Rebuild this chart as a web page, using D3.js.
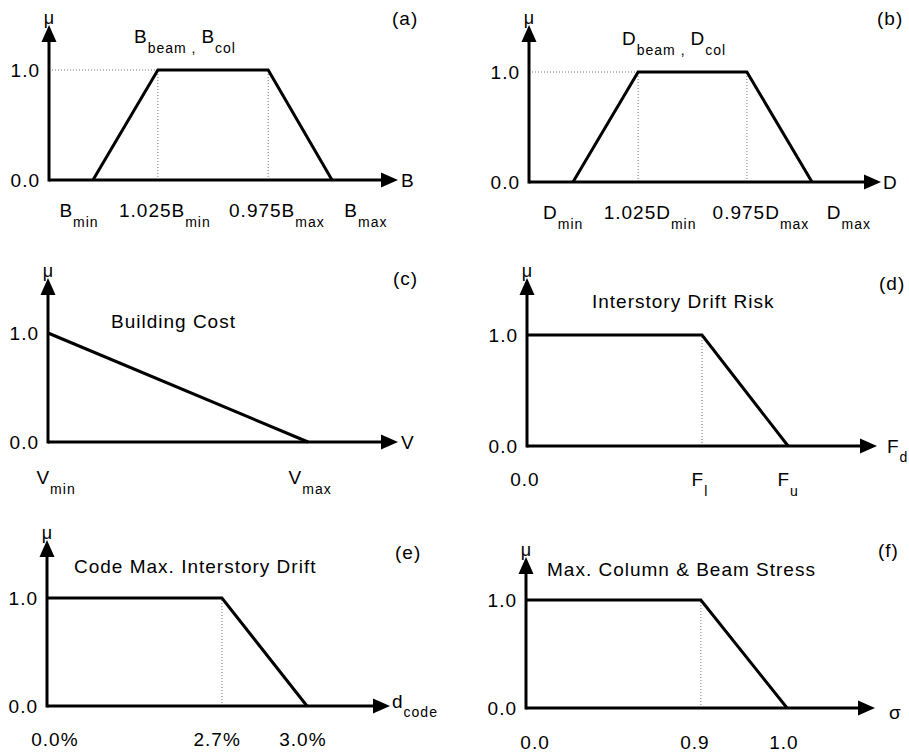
<!DOCTYPE html>
<html><head><meta charset="utf-8">
<script src="https://cdn.jsdelivr.net/npm/d3@7"></script>
<style>
body{margin:0;background:#fff;}
svg text{font-family:"Liberation Sans",Arial,Helvetica,sans-serif;fill:#000;}
</style></head><body>
<svg id="chart" width="909" height="753"></svg>
<script>
// ================= DATA =================
// membership axis ticks
const muTicks = [0, 1];
// x positions are schematic (fraction of the drawn x-axis length)
// (a) B_beam, B_col
const aX = [0.126, 0.312, 0.628, 0.811];
const aMu = [0, 1, 1, 0];
const aTickPos = [0.086, 0.332, 0.653, 0.908];
const aTickText = ["B", "1.025B", "0.975B", "B"];
const aTickSub = ["min", "min", "max", "max"];
// (b) D_beam, D_col
const bX = [0.125, 0.310, 0.619, 0.804];
const bMu = [0, 1, 1, 0];
const bTickPos = [0.097, 0.344, 0.659, 0.909];
const bTickText = ["D", "1.025D", "0.975D", "D"];
const bTickSub = ["min", "min", "max", "max"];
// (c) Building Cost
const cX = [0, 0.743];
const cMu = [1, 0];
const cTickPos = [0.023, 0.749];
const cTickText = ["V", "V"];
const cTickSub = ["min", "max"];
// (d) Interstory Drift Risk
const dX = [0, 0.5, 0.746];
const dMu = [1, 1, 0];
const dTickPos = [-0.006, 0.494, 0.746];
const dTickText = ["0.0", "F", "F"];
const dTickSub = ["", "l", "u"];
// (e) Code Max. Interstory Drift
const eX = [0, 0.510, 0.758];
const eMu = [1, 1, 0];
const eTickPos = [0.023, 0.496, 0.746];
const eTickText = ["0.0%", "2.7%", "3.0%"];
const eTickSub = ["", "", ""];
// (f) Max. Column & Beam Stress
const fX = [0, 0.501, 0.748];
const fMu = [1, 1, 0];
const fTickPos = [0.026, 0.484, 0.739];
const fTickText = ["0.0", "0.9", "1.0"];
const fTickSub = ["", "", ""];

const panelLetters = ["(a)", "(b)", "(c)", "(d)", "(e)", "(f)"];
// titles as [main, subscript] pairs
const titleA = [["B", "beam , "], ["B", "col"]];
const titleB = [["D", "beam , "], ["D", "col"]];
const titleC = [["Building Cost", ""]];
const titleD = [["Interstory Drift Risk", ""]];
const titleE = [["Code Max. Interstory Drift", ""]];
const titleF = [["Max. Column & Beam Stress", ""]];
// axis names at arrow end [main, subscript]
const axisNames = [["B", ""], ["D", ""], ["V", ""], ["F", "d"], ["d", "code"], ["σ", ""]];
const muLabel = "μ";

// ================= LAYOUT =================
const layouts = [
  {ox:49,  y0:180, y1:70,  xEnd:398, yTop:25,  titleX:134, titleY:43,  letterX:392, letterY:25,  tickY:217, nameX:401, nameDy:7},
  {ox:529, y0:182, y1:72,  xEnd:881, yTop:25,  titleX:622, titleY:45,  letterX:877, letterY:25,  tickY:219, nameX:883, nameDy:7},
  {ox:48,  y0:442, y1:333, xEnd:398, yTop:278, titleX:111, titleY:328, letterX:393, letterY:285, tickY:484, nameX:401, nameDy:7},
  {ox:527, y0:446, y1:335, xEnd:877, yTop:278, titleX:592, titleY:308, letterX:879, letterY:290, tickY:486, nameX:887, nameDy:7},
  {ox:47,  y0:706, y1:598, xEnd:390, yTop:540, titleX:74,  titleY:573, letterX:395, letterY:559, tickY:746, nameX:392, nameDy:2},
  {ox:526, y0:708, y1:600, xEnd:875, yTop:557, titleX:547, titleY:576, letterX:878, letterY:557, tickY:749, nameX:889, nameDy:11}
];

const panels = [
  {xs:aX, mu:aMu, tp:aTickPos, tt:aTickText, ts:aTickSub, title:titleA},
  {xs:bX, mu:bMu, tp:bTickPos, tt:bTickText, ts:bTickSub, title:titleB},
  {xs:cX, mu:cMu, tp:cTickPos, tt:cTickText, ts:cTickSub, title:titleC},
  {xs:dX, mu:dMu, tp:dTickPos, tt:dTickText, ts:dTickSub, title:titleD},
  {xs:eX, mu:eMu, tp:eTickPos, tt:eTickText, ts:eTickSub, title:titleE},
  {xs:fX, mu:fMu, tp:fTickPos, tt:fTickText, ts:fTickSub, title:titleF}
];

const FONT = 19, SUB = 14, LS = 1, SUBDY = 10;
const LW = 3, ARW = 7.5, ARL = 17;

const svg = d3.select("#chart");

function richText(sel, pairs, subDy) {
  let down = false;
  pairs.forEach(([m, s]) => {
    if (m) {
      const t = sel.append("tspan").text(m);
      if (down) { t.attr("dy", -subDy); down = false; }
    }
    if (s) {
      sel.append("tspan").attr("font-size", SUB).attr("dy", subDy).text(s);
      down = true;
    }
  });
}

panels.forEach((p, k) => {
  const L = layouts[k];
  const g = svg.append("g");
  const x = d3.scaleLinear().domain([0, 1]).range([L.ox, L.xEnd]);
  const y = d3.scaleLinear().domain([0, 1]).range([L.y0, L.y1]);
  const pts = p.xs.map((v, i) => [v, p.mu[i]]);
  const line = d3.line().x(d => x(d[0])).y(d => y(d[1]));

  // dotted guide lines
  const tops = pts.filter(d => d[1] === 1 && d[0] > 0);
  const guide = g.append("g").attr("stroke", "#777").attr("stroke-width", 1).attr("stroke-dasharray", "1,2").attr("fill", "none");
  if (pts[0][1] !== 1 && tops.length) {
    guide.append("path").attr("d", line([[0, 1], [tops[0][0], 1]]));
  }
  tops.forEach(d => guide.append("path").attr("d", line([[d[0], 0], [d[0], 1]])));

  // axes with arrows
  g.append("path").attr("d", d3.line()([[x(0), y(0)], [x(1) - ARL + 2, y(0)]]))
    .attr("stroke", "#000").attr("stroke-width", LW).attr("fill", "none");
  g.append("path").attr("d", d3.line()([[x(0), y(0) + LW / 2], [x(0), L.yTop + ARL - 2]]))
    .attr("stroke", "#000").attr("stroke-width", LW).attr("fill", "none");
  g.append("path").attr("d", d3.line()([[x(1), y(0)], [x(1) - ARL, y(0) - ARW], [x(1) - ARL, y(0) + ARW]]) + "Z").attr("fill", "#000");
  g.append("path").attr("d", d3.line()([[x(0), L.yTop], [x(0) - ARW, L.yTop + ARL], [x(0) + ARW, L.yTop + ARL]]) + "Z").attr("fill", "#000");

  // membership function
  g.append("path").datum(pts).attr("d", line)
    .attr("stroke", "#000").attr("stroke-width", LW).attr("fill", "none")
    .attr("stroke-linejoin", "miter");

  // y ticks
  const ay = d3.axisLeft(y).tickValues(muTicks).tickSize(0).tickPadding(9).tickFormat(d3.format(".1f"));
  const gy = g.append("g").attr("transform", `translate(${L.ox},0)`).call(ay);
  gy.select(".domain").remove();
  gy.attr("font-size", FONT).attr("font-family", null);
  gy.selectAll("text").attr("letter-spacing", LS).attr("fill", "#000");

  // mu label
  g.append("text").attr("x", x(0)).attr("y", L.yTop - 1).attr("text-anchor", "middle")
    .attr("font-size", 18).text(muLabel);

  // x tick labels
  p.tt.forEach((t, i) => {
    const tx = g.append("text").attr("x", x(p.tp[i])).attr("y", L.tickY)
      .attr("text-anchor", "middle").attr("font-size", FONT).attr("letter-spacing", LS);
    richText(tx, [[t, p.ts[i]]], SUBDY);
  });

  // title
  const tt = g.append("text").attr("x", L.titleX).attr("y", L.titleY)
    .attr("font-size", FONT).attr("letter-spacing", LS);
  richText(tt, p.title, SUBDY);

  // panel letter
  g.append("text").attr("x", L.letterX).attr("y", L.letterY)
    .attr("font-size", FONT).attr("letter-spacing", LS).text(panelLetters[k]);

  // axis name
  const an = g.append("text").attr("x", L.nameX).attr("y", y(0) + L.nameDy)
    .attr("font-size", FONT).attr("letter-spacing", LS);
  richText(an, [axisNames[k]], 9);
});
</script>
</body></html>
